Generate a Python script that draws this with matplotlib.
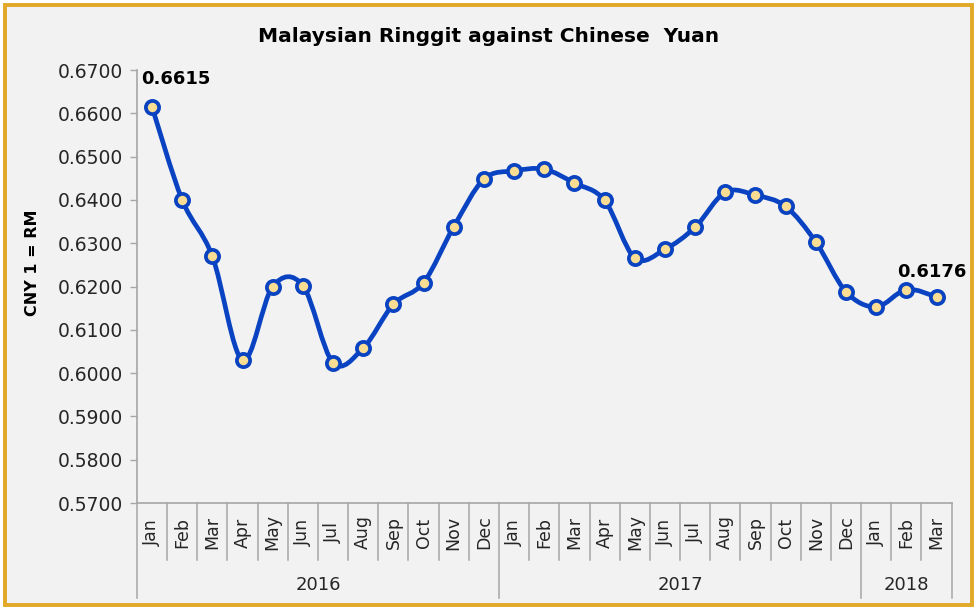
import matplotlib
matplotlib.use('Agg')
import matplotlib.pyplot as plt
from matplotlib.path import Path
from matplotlib.patches import PathPatch, Rectangle
import matplotlib.transforms as mtransforms
import numpy as np

plt.rcParams['font.family'] = ['DejaVu Sans']

# 데이터
months = ['Jan', 'Feb', 'Mar', 'Apr', 'May', 'Jun', 'Jul', 'Aug', 'Sep', 'Oct', 'Nov', 'Dec',
          'Jan', 'Feb', 'Mar', 'Apr', 'May', 'Jun', 'Jul', 'Aug', 'Sep', 'Oct', 'Nov', 'Dec',
          'Jan', 'Feb', 'Mar']
years = ['2016', '2017', '2018']
year_counts = [12, 12, 3]
rates = [0.6615, 0.6400, 0.6270, 0.6030, 0.6200, 0.6202, 0.6024, 0.6058, 0.6159, 0.6209,
         0.6338, 0.6448, 0.6467, 0.6471, 0.6439, 0.6399, 0.6266, 0.6286, 0.6337, 0.6418,
         0.6411, 0.6385, 0.6303, 0.6188, 0.6153, 0.6193, 0.6176]
yticks = [0.57, 0.58, 0.59, 0.60, 0.61, 0.62, 0.63, 0.64, 0.65, 0.66, 0.67]

line_color = '#0A43C2'
marker_fill = '#F8DD92'
grey = '#A6A6A6'
txt = '#262626'

fig = plt.figure(figsize=(9.78, 6.09), dpi=100)
fig.patch.set_facecolor('white')
# 바깥 테두리
fig.patches.append(Rectangle((0.0055, 0.0065), 0.988, 0.986, transform=fig.transFigure,
                             facecolor='#F2F2F2', edgecolor='#E2A828', linewidth=2.8, zorder=-10))

ax = fig.add_axes([0.140, 0.174, 0.833, 0.711])
ax.set_facecolor('none')

x = np.arange(len(rates))
y = np.array(rates)

# 엑셀 스타일 부드러운 선 (Catmull-Rom -> Bezier)
pts = np.column_stack([x, y])
verts = [pts[0]]
codes = [Path.MOVETO]
n = len(pts)
for i in range(n - 1):
    p0 = pts[i - 1] if i > 0 else pts[i]
    p1 = pts[i]
    p2 = pts[i + 1]
    p3 = pts[i + 2] if i + 2 < n else pts[i + 1]
    c1 = p1 + (p2 - p0) / 6.0
    c2 = p2 - (p3 - p1) / 6.0
    verts += [c1, c2, p2]
    codes += [Path.CURVE4] * 3
ax.add_patch(PathPatch(Path(verts, codes), facecolor='none', edgecolor=line_color,
                       linewidth=3.4, capstyle='round', zorder=3))
ax.plot(x, y, linestyle='none', marker='o', markersize=9.5, markerfacecolor=marker_fill,
        markeredgecolor=line_color, markeredgewidth=2.7, zorder=4)

ax.set_xlim(-0.5, len(rates) - 0.5)
ax.set_ylim(0.57, 0.67)
ax.set_yticks(yticks)
ax.set_yticklabels([f'{v:.4f}' for v in yticks], fontsize=13.5, color=txt)
ax.tick_params(axis='y', direction='out', length=5, width=1, color=grey, pad=5)
ax.set_xticks([])

for s in ['top', 'right']:
    ax.spines[s].set_visible(False)
for s in ['left', 'bottom']:
    ax.spines[s].set_color(grey)
    ax.spines[s].set_linewidth(1.2)

ax.set_ylabel('CNY 1 = RM', fontsize=11.5, fontweight='bold')
ax.yaxis.set_label_coords(-0.119, 0.554)
ax.set_title('Malaysian Ringgit against Chinese  Yuan', fontsize=14.5, fontweight='bold',
             pad=20, x=0.432)

# 카테고리 축 (월 / 연도)
trans = mtransforms.blended_transform_factory(ax.transData, ax.transAxes)
year_edges = np.concatenate([[0], np.cumsum(year_counts)])
for i in range(len(months) + 1):
    bottom = -0.219 if i in year_edges else -0.132
    ax.plot([i - 0.5, i - 0.5], [0, bottom], color=grey, linewidth=1.1,
            transform=trans, clip_on=False)
for i, m in enumerate(months):
    ax.text(i, -0.068, m, rotation=90, ha='center', va='center', fontsize=12.5,
            color=txt, transform=trans)
for k, yr in enumerate(years):
    mid = (year_edges[k] + year_edges[k + 1]) / 2 - 0.5
    ax.text(mid, -0.19, yr, ha='center', va='center', fontsize=13,
            color=txt, transform=trans)

# 데이터 라벨
ax.annotate(f'{rates[0]:.4f}', (x[0], y[0]), xytext=(-8, 20), textcoords='offset points',
            fontsize=13, fontweight='bold', ha='left', va='center')
ax.annotate(f'{rates[-1]:.4f}', (x[-2], y[-2]), xytext=(18, 13), textcoords='offset points',
            fontsize=13, fontweight='bold', ha='center', va='center')

fig.savefig('out.png', dpi=100, facecolor=fig.get_facecolor())
